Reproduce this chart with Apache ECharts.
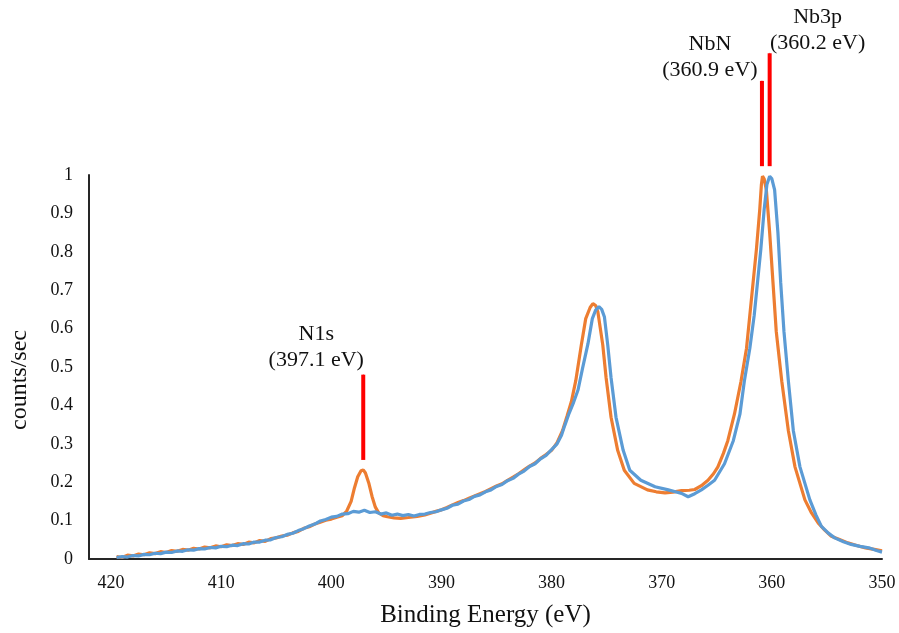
<!DOCTYPE html>
<html><head><meta charset="utf-8">
<script src="https://cdn.jsdelivr.net/npm/echarts@6/dist/echarts.min.js"></script>
<style>html,body{margin:0;padding:0;background:#fff}#c{width:899px;height:633px}</style>
</head><body><div id="c"></div>
<script>
// Binding energy (eV) vs normalised counts, orange sample
const spectrumOrange = [
[419.5,0.006],[419.0,0.004],[418.5,0.010],[418.0,0.008],[417.5,0.013],[417.0,0.011],[416.5,0.016],[416.0,0.014],
[415.5,0.019],[415.0,0.017],[414.5,0.022],[414.0,0.020],[413.5,0.025],[413.0,0.023],[412.5,0.028],[412.0,0.026],
[411.5,0.031],[411.0,0.029],[410.5,0.034],[410.0,0.032],[409.5,0.037],[409.0,0.035],[408.5,0.040],[408.0,0.038],
[407.5,0.044],[407.0,0.042],[406.5,0.048],[406.0,0.046],[405.5,0.053],[405.0,0.055],[404.5,0.060],[404.0,0.062],
[403.5,0.068],[403.0,0.072],[402.5,0.080],[402.0,0.084],[401.5,0.091],[401.0,0.096],[400.5,0.101],[400.0,0.104],
[399.5,0.109],[399.0,0.113],[398.6,0.125],[398.2,0.150],[397.9,0.185],[397.6,0.214],[397.3,0.230],[397.1,0.232],
[396.9,0.224],[396.6,0.198],[396.3,0.163],[396.0,0.135],[395.7,0.120],[395.3,0.113],[394.9,0.110],[394.3,0.107],
[393.7,0.106],[393.0,0.108],[392.2,0.111],[391.5,0.115],[391.0,0.119],[390.5,0.124],[390.0,0.128],[389.5,0.134],
[389.0,0.141],[388.5,0.147],[388.0,0.152],[387.5,0.158],[387.0,0.164],[386.5,0.170],[386.0,0.176],[385.5,0.183],
[385.0,0.190],[384.5,0.196],[384.0,0.205],[383.5,0.213],[383.0,0.222],[382.5,0.232],[382.0,0.242],[381.5,0.250],
[381.0,0.262],[380.5,0.272],[380.0,0.283],[379.5,0.303],[379.0,0.335],[378.6,0.372],[378.2,0.410],[377.8,0.465],
[377.3,0.557],[376.9,0.626],[376.5,0.655],[376.25,0.665],[376.0,0.660],[375.8,0.644],[375.35,0.557],[375.05,0.472],
[374.6,0.369],[374.0,0.283],[373.4,0.231],[372.5,0.197],[371.3,0.180],[370.5,0.175],[369.7,0.172],[369.0,0.174],
[368.2,0.178],[367.5,0.179],[367.0,0.181],[366.4,0.191],[365.8,0.205],[365.3,0.222],[364.9,0.240],[364.4,0.275],
[364.0,0.308],[363.4,0.377],[362.8,0.463],[362.3,0.549],[362.0,0.635],[361.7,0.721],[361.4,0.807],[361.1,0.910],
[360.95,0.975],[360.85,0.997],[360.7,0.990],[360.5,0.961],[360.2,0.850],[359.9,0.721],[359.6,0.592],[359.1,0.463],
[358.5,0.334],[357.9,0.240],[357.0,0.154],[356.4,0.120],[355.8,0.094],[355.2,0.075],[354.6,0.059],[353.8,0.050],
[353.1,0.042],[352.3,0.035],[351.5,0.029],[350.7,0.025],[350.0,0.021]
];
// Binding energy (eV) vs normalised counts, blue sample
const spectrumBlue = [
[419.5,0.004],[419.0,0.006],[418.5,0.005],[418.0,0.009],[417.5,0.008],[417.0,0.012],[416.5,0.011],[416.0,0.015],
[415.5,0.014],[415.0,0.018],[414.5,0.017],[414.0,0.021],[413.5,0.020],[413.0,0.024],[412.5,0.023],[412.0,0.027],
[411.5,0.026],[411.0,0.030],[410.5,0.029],[410.0,0.033],[409.5,0.032],[409.0,0.036],[408.5,0.035],[408.0,0.040],
[407.5,0.039],[407.0,0.044],[406.5,0.044],[406.0,0.049],[405.5,0.050],[405.0,0.056],[404.5,0.058],[404.0,0.064],
[403.5,0.067],[403.0,0.074],[402.5,0.079],[402.0,0.086],[401.5,0.091],[401.0,0.099],[400.5,0.103],[400.0,0.109],
[399.5,0.111],[399.0,0.117],[398.5,0.118],[398.0,0.124],[397.5,0.122],[397.0,0.127],[396.5,0.121],[396.0,0.123],
[395.5,0.117],[395.0,0.120],[394.5,0.114],[394.0,0.117],[393.5,0.113],[393.0,0.116],[392.5,0.112],[392.0,0.116],
[391.5,0.117],[391.0,0.121],[390.5,0.123],[390.0,0.128],[389.5,0.132],[389.0,0.140],[388.5,0.143],[388.0,0.151],
[387.5,0.155],[387.0,0.163],[386.5,0.167],[386.0,0.175],[385.5,0.180],[385.0,0.189],[384.5,0.194],[384.0,0.204],
[383.5,0.210],[383.0,0.221],[382.5,0.229],[382.0,0.241],[381.5,0.248],[381.0,0.261],[380.5,0.270],[380.0,0.285],
[379.5,0.300],[379.1,0.322],[378.8,0.348],[378.4,0.380],[378.0,0.408],[377.6,0.440],[377.2,0.495],[376.7,0.560],
[376.3,0.626],[376.0,0.648],[375.7,0.657],[375.45,0.650],[375.2,0.630],[374.9,0.557],[374.6,0.472],[374.15,0.369],
[373.5,0.283],[372.9,0.231],[371.9,0.205],[370.6,0.188],[369.4,0.180],[368.6,0.174],[368.2,0.171],[367.6,0.162],
[367.0,0.170],[366.4,0.180],[365.8,0.192],[365.2,0.205],[364.3,0.248],[363.5,0.308],[362.9,0.377],[362.5,0.463],
[362.0,0.549],[361.6,0.635],[361.3,0.721],[361.0,0.807],[360.7,0.910],[360.45,0.975],[360.2,0.997],[360.0,0.990],
[359.75,0.961],[359.45,0.850],[359.2,0.721],[358.9,0.592],[358.5,0.463],[358.05,0.334],[357.45,0.240],[356.55,0.154],
[356.0,0.115],[355.5,0.085],[354.9,0.068],[354.3,0.055],[353.5,0.045],[352.8,0.038],[352.0,0.033],[351.2,0.029],
[350.5,0.022],[350.0,0.018]
];
// Peak markers
const markerEnergy = [397.1, 360.9, 360.2];
const markerBottom = [0.258, 1.023, 1.023];
const markerTop = [0.48, 1.245, 1.317];
const markerText = [['N1s', '(397.1 eV)'], ['NbN', '(360.9 eV)'], ['Nb3p', '(360.2 eV)']];
const yTickValues = [0, 0.1, 0.2, 0.3, 0.4, 0.5, 0.6, 0.7, 0.8, 0.9, 1];
const xTickValues = [420, 410, 400, 390, 380, 370, 360, 350];

const FONT = '"Liberation Serif", "Times New Roman", serif';
const TXT = '#111111';
const labelOffsets = [[-47, -27], [-52, -24], [48, -23]];

const chart = echarts.init(document.getElementById('c'), null, {renderer: 'canvas'});
const series = [
  {type: 'line', name: 'orange', data: spectrumOrange, showSymbol: false, symbol: 'none',
   lineStyle: {color: '#ED7D31', width: 3.2}, itemStyle: {color: '#ED7D31'}, z: 2},
  {type: 'line', name: 'blue', data: spectrumBlue, showSymbol: false, symbol: 'none',
   lineStyle: {color: '#5B9BD5', width: 3.2}, itemStyle: {color: '#5B9BD5'}, z: 3}
];
markerEnergy.forEach((e, i) => {
  series.push({type: 'line', data: [[e, markerBottom[i]], [e, markerTop[i]]], clip: false,
    showSymbol: false, symbol: 'none', silent: true, z: 4,
    lineStyle: {color: '#FF0000', width: 4, cap: 'butt'}});
});
series.push({
  type: 'scatter', clip: false, silent: true, symbolSize: 1, z: 5,
  itemStyle: {color: '#FF0000'},
  emphasis: {disabled: true},
  data: markerEnergy.map((e, i) => ({
    value: [e, markerTop[i]],
    label: {show: true, position: 'inside', offset: labelOffsets[i],
      formatter: markerText[i].join('\n'), align: 'center', verticalAlign: 'middle',
      fontFamily: FONT, fontSize: 22, lineHeight: 26, color: TXT,
      textBorderWidth: 0, opacity: 1}
  }))
});

chart.setOption({
  animation: false,
  backgroundColor: '#fff',
  grid: {left: 89, right: 17, top: 175, bottom: 70},
  xAxis: {
    type: 'value', inverse: true, min: 350, max: 422, interval: 10,
    name: 'Binding Energy (eV)', nameLocation: 'middle', nameGap: 44,
    nameTextStyle: {fontFamily: FONT, fontSize: 25, color: TXT},
    axisLine: {show: true, onZero: false, lineStyle: {color: '#262626', width: 2}},
    axisTick: {show: false}, splitLine: {show: false},
    axisLabel: {fontFamily: FONT, fontSize: 18, color: TXT, margin: 15,
      formatter: v => xTickValues.indexOf(v) >= 0 ? String(v) : ''}
  },
  yAxis: {
    type: 'value', min: 0, max: 1, interval: 0.1,
    name: 'counts/sec', nameLocation: 'middle', nameGap: 57,
    nameTextStyle: {fontFamily: FONT, fontSize: 24, color: TXT, padding: [0, 26, 0, 0]},
    axisLine: {show: true, lineStyle: {color: '#262626', width: 2}},
    axisTick: {show: false}, splitLine: {show: false},
    axisLabel: {fontFamily: FONT, fontSize: 18, color: TXT, margin: 16,
      formatter: v => {
        const t = yTickValues.find(k => Math.abs(k - v) < 1e-6);
        return t === undefined ? '' : String(t);
      }}
  },
  series: series
});
</script>
</body></html>
